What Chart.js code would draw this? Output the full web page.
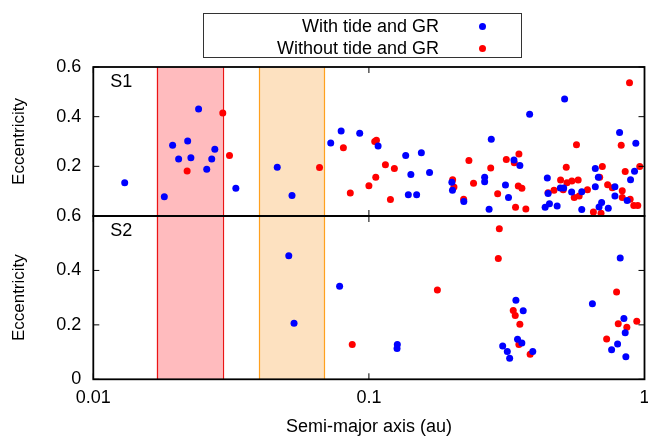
<!DOCTYPE html>
<html>
<head>
<meta charset="utf-8">
<script src="https://cdn.jsdelivr.net/npm/chart.js@4.4.0/dist/chart.umd.min.js"></script>
<style>
  html, body { margin: 0; padding: 0; background: #fff; }
  #wrap { position: relative; width: 648px; height: 439px; }
  #legend { position: absolute; left: 203px; top: 13px; width: 319px; height: 45px; border: 1px solid #333; box-sizing: border-box; font-family: "Liberation Sans", Arial, sans-serif; font-size: 18px; color: #000; }
  .lt { position: absolute; right: 82px; height: 22px; line-height: 22px; white-space: nowrap; }
  .ld { position: absolute; left: 275px; width: 7px; height: 7px; border-radius: 50%; }
</style>
</head>
<body>
<div id="wrap">
  <canvas id="c" width="648" height="439"></canvas>
  <div id="legend"></div>
</div>
<script>
// ---- data ----
const seriesNames = ["With tide and GR", "Without tide and GR"];
const seriesColors = ["#0000ff", "#ff0000"];
const panelNames = ["S1", "S2"];
const xTicks = [0.01, 0.1, 1];
const y1Ticks = [0.2, 0.4, 0.6];
const y2Ticks = [0, 0.2, 0.4, 0.6];
const bandRanges = [[0.017, 0.0295], [0.04, 0.069]];

// S1, with tide and GR (blue)
const s1WithA = [0.0130, 0.0181, 0.0194, 0.0204, 0.0220, 0.0226, 0.0241, 0.0258, 0.0269, 0.0276, 0.0329, 0.0465, 0.0526, 0.0727, 0.0793, 0.0926, 0.108, 0.136, 0.142, 0.155, 0.139, 0.149, 0.166, 0.200, 0.201, 0.221, 0.263, 0.263, 0.278, 0.273, 0.313, 0.321, 0.336, 0.353, 0.383, 0.444, 0.447, 0.436, 0.452, 0.482, 0.495, 0.509, 0.513, 0.544, 0.592, 0.592, 0.663, 0.680, 0.663, 0.699, 0.684, 0.739, 0.781, 0.781, 0.812, 0.890, 0.865, 0.920, 0.930];
const s1WithE = [0.134, 0.078, 0.285, 0.230, 0.302, 0.235, 0.431, 0.188, 0.230, 0.269, 0.112, 0.196, 0.083, 0.294, 0.342, 0.333, 0.282, 0.244, 0.167, 0.255, 0.086, 0.086, 0.175, 0.136, 0.104, 0.058, 0.156, 0.138, 0.309, 0.027, 0.125, 0.074, 0.226, 0.203, 0.410, 0.153, 0.091, 0.035, 0.049, 0.040, 0.113, 0.113, 0.471, 0.097, 0.026, 0.098, 0.191, 0.156, 0.118, 0.054, 0.036, 0.031, 0.081, 0.118, 0.336, 0.146, 0.062, 0.180, 0.293];

// S1, without tide and GR (red)
const s1WithoutA = [0.0219, 0.0295, 0.0312, 0.0662, 0.0808, 0.0856, 0.1000, 0.1050, 0.1065, 0.1059, 0.1148, 0.1237, 0.1197, 0.2013, 0.2035, 0.2207, 0.2306, 0.2397, 0.2767, 0.2932, 0.3152, 0.3369, 0.3502, 0.3483, 0.3590, 0.3405, 0.3711, 0.4467, 0.4695, 0.4960, 0.5070, 0.5230, 0.5450, 0.5745, 0.5201, 0.5665, 0.5559, 0.5794, 0.6209, 0.6525, 0.6954, 0.6877, 0.7031, 0.7348, 0.7640, 0.8303, 0.8303, 0.8232, 0.8823, 0.8511, 0.8872, 0.9144, 0.9453, 0.9612];
const s1WithoutE = [0.181, 0.415, 0.244, 0.195, 0.275, 0.093, 0.122, 0.300, 0.305, 0.156, 0.206, 0.191, 0.066, 0.146, 0.117, 0.067, 0.223, 0.132, 0.193, 0.090, 0.228, 0.214, 0.250, 0.121, 0.112, 0.035, 0.028, 0.094, 0.104, 0.145, 0.106, 0.134, 0.141, 0.145, 0.196, 0.287, 0.075, 0.081, 0.106, 0.016, 0.011, 0.156, 0.199, 0.126, 0.114, 0.102, 0.075, 0.285, 0.537, 0.179, 0.067, 0.042, 0.042, 0.199];

// S2, with tide and GR (blue)
const s2WithA = [0.0512, 0.0535, 0.0783, 0.1268, 0.1265, 0.3415, 0.3630, 0.3462, 0.3589, 0.3058, 0.3178, 0.3241, 0.3932, 0.6471, 0.8164, 0.8419, 0.8511, 0.7986, 0.7597, 0.8558];
const s2WithE = [0.454, 0.206, 0.342, 0.128, 0.113, 0.290, 0.252, 0.147, 0.133, 0.122, 0.102, 0.077, 0.102, 0.278, 0.446, 0.223, 0.171, 0.130, 0.109, 0.083];

// S2, without tide and GR (red)
const s2WithoutA = [0.0870, 0.1772, 0.2973, 0.2948, 0.3340, 0.3396, 0.3530, 0.3501, 0.3847, 0.7920, 0.7288, 0.8030, 0.8628, 0.9375];
const s2WithoutE = [0.128, 0.328, 0.553, 0.444, 0.253, 0.234, 0.202, 0.128, 0.092, 0.321, 0.148, 0.204, 0.191, 0.213];

// ---- build ----
const FONT = '"Liberation Sans", Arial, Helvetica, sans-serif';
const pts = (a, e) => a.map((v, i) => ({ x: v, y: e[i] }));
const bandFill = ["rgb(255,187,190)", "rgb(253,225,192)"];
const bandEdge = ["rgb(235,20,20)", "rgb(255,160,30)"];

// legend (HTML)
const lg = document.getElementById('legend');
seriesNames.forEach((n, i) => {
  const t = document.createElement('span');
  t.className = 'lt'; t.textContent = n; t.style.top = (i === 0 ? 1 : 23) + 'px';
  lg.appendChild(t);
  const d = document.createElement('span');
  d.className = 'ld'; d.style.background = seriesColors[i]; d.style.top = (i === 0 ? 8.5 : 30.5) + 'px';
  lg.appendChild(d);
});

const deco = {
  id: 'deco',
  beforeDatasetsDraw(chart) {
    const ctx = chart.ctx, xs = chart.scales.x;
    ['y1', 'y2'].forEach(id => {
      const ys = chart.scales[id];
      bandRanges.forEach((b, i) => {
        const x0 = xs.getPixelForValue(b[0]), x1 = xs.getPixelForValue(b[1]);
        ctx.save();
        ctx.fillStyle = bandFill[i];
        ctx.fillRect(x0, ys.top, x1 - x0, ys.bottom - ys.top);
        ctx.strokeStyle = bandEdge[i]; ctx.lineWidth = 1.2;
        ctx.beginPath();
        ctx.moveTo(Math.round(x0) + 0.5, ys.top); ctx.lineTo(Math.round(x0) + 0.5, ys.bottom);
        ctx.moveTo(Math.round(x1) + 0.5, ys.top); ctx.lineTo(Math.round(x1) + 0.5, ys.bottom);
        ctx.stroke();
        ctx.restore();
      });
    });
  },
  afterDatasetsDraw(chart) {
    const ctx = chart.ctx, xs = chart.scales.x;
    const tl = 6;
    ctx.save();
    ctx.strokeStyle = '#000';
    ['y1', 'y2'].forEach((id, k) => {
      const ys = chart.scales[id];
      const L = xs.left, R = xs.right, T = ys.top, B = ys.bottom;
      ctx.lineWidth = 1.8;
      ctx.strokeRect(L, T, R - L, B - T);
      ctx.lineWidth = 1;
      ctx.beginPath();
      ys.ticks.forEach(t => {
        const py = ys.getPixelForValue(t.value);
        ctx.moveTo(L, py); ctx.lineTo(L + tl, py);
        ctx.moveTo(R, py); ctx.lineTo(R - tl, py);
      });
      xs.ticks.forEach(t => {
        const px = xs.getPixelForValue(t.value);
        ctx.moveTo(px, T); ctx.lineTo(px, T + tl);
        ctx.moveTo(px, B); ctx.lineTo(px, B - tl);
      });
      ctx.stroke();
      ctx.fillStyle = '#000';
      ctx.font = '18px ' + FONT;
      ctx.textAlign = 'left';
      ctx.textBaseline = 'middle';
      ctx.fillText(panelNames[k], L + 17, T + 15);
    });
    ctx.restore();
  }
};

const tickFont = { family: FONT, size: 18 };
const yAxis = (ticksArr, w, weight) => ({
  type: 'linear', position: 'left', stack: 'panels', stackWeight: w, weight: weight,
  min: 0, max: 0.6,
  grid: { display: false, drawTicks: false, tickLength: 0 },
  border: { display: false },
  ticks: { font: tickFont, color: '#000', padding: 12, callback: v => (v === 0 ? '0' : Number(v).toFixed(1)) },
  title: { display: true, text: 'Eccentricity', font: { family: FONT, size: 17 }, color: '#000', padding: { top: 9, bottom: 0 } },
  afterBuildTicks: s => { s.ticks = ticksArr.map(v => ({ value: v })); },
  afterFit: s => { s.width = 93.3; s.paddingTop = 0; s.paddingBottom = 0; }
});

new Chart(document.getElementById('c'), {
  type: 'scatter',
  data: {
    datasets: [
      { label: seriesNames[0], data: pts(s1WithA, s1WithE), yAxisID: 'y1', backgroundColor: seriesColors[0] },
      { label: seriesNames[1], data: pts(s1WithoutA, s1WithoutE), yAxisID: 'y1', backgroundColor: seriesColors[1] },
      { label: seriesNames[0], data: pts(s2WithA, s2WithE), yAxisID: 'y2', backgroundColor: seriesColors[0] },
      { label: seriesNames[1], data: pts(s2WithoutA, s2WithoutE), yAxisID: 'y2', backgroundColor: seriesColors[1] }
    ]
  },
  options: {
    responsive: false,
    animation: false,
    events: [],
    layout: { padding: { top: 67, right: 2, left: 0, bottom: 0 } },
    elements: { point: { radius: 3.5, borderWidth: 0, hoverRadius: 3.5 } },
    plugins: { legend: { display: false }, tooltip: { enabled: false } },
    scales: {
      x: {
        type: 'logarithmic', position: 'bottom', min: 0.01, max: 1,
        grid: { display: false, drawTicks: false, tickLength: 0 },
        border: { display: false },
        ticks: { font: tickFont, color: '#000', padding: 8, maxRotation: 0, autoSkip: false, callback: v => String(v) },
        title: { display: true, text: 'Semi-major axis (au)', font: { family: FONT, size: 18 }, color: '#000', padding: { top: 0, bottom: 1 } },
        afterBuildTicks: s => { s.ticks = xTicks.map(v => ({ value: v })); },
        afterFit: s => { s.height = 59.7; s.paddingLeft = 0; s.paddingRight = 0; }
      },
      y1: yAxis(y1Ticks, 149, 2),
      y2: yAxis(y2Ticks, 163.3, 1)
    }
  },
  plugins: [deco]
});
</script>
</body>
</html>
